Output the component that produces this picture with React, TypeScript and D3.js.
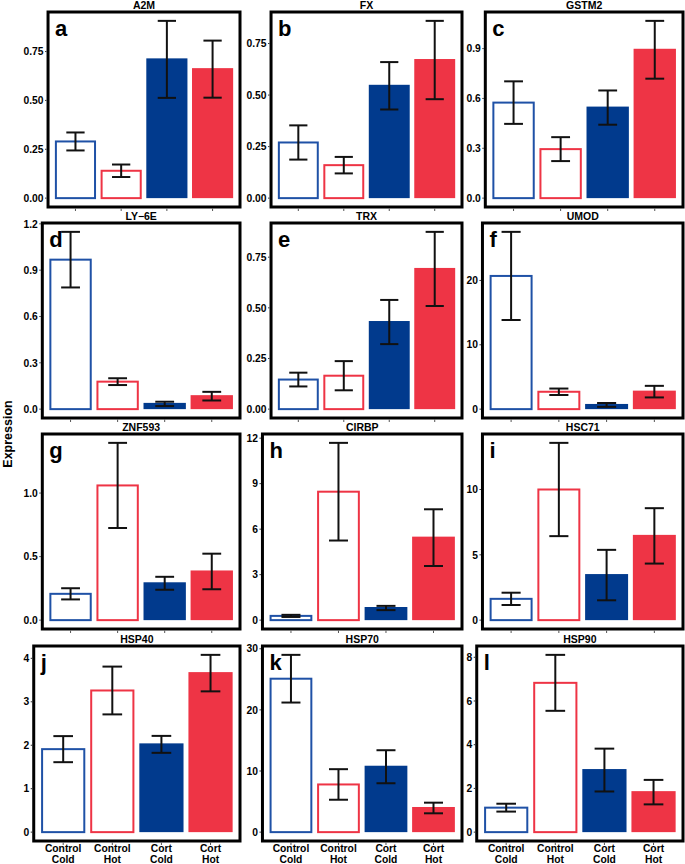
import * as d3 from 'd3'

const groups = ['Control Cold', 'Control Hot', 'Cort Cold', 'Cort Hot']
const hollow = [true, true, false, false]
const groupColors = ['#1f51a6', '#ee3445', '#013a8d', '#ee3445']

const genes = ['A2M', 'FX', 'GSTM2', 'LY\u22126E', 'TRX', 'UMOD', 'ZNF593', 'CIRBP', 'HSC71', 'HSP40', 'HSP70', 'HSP90']
const letters = ['a', 'b', 'c', 'd', 'e', 'f', 'g', 'h', 'i', 'j', 'k', 'l']

// mean expression and standard error, one pair per gene
const a2mMean = [0.29, 0.14, 0.71, 0.66]
const a2mSe = [0.046, 0.032, 0.197, 0.146]
const fxMean = [0.27, 0.16, 0.545, 0.67]
const fxSe = [0.083, 0.04, 0.115, 0.19]
const gstm2Mean = [0.575, 0.295, 0.545, 0.893]
const gstm2Se = [0.128, 0.072, 0.103, 0.174]
const ly6eMean = [0.968, 0.178, 0.034, 0.084]
const ly6eSe = [0.18, 0.022, 0.014, 0.028]
const trxMean = [0.146, 0.165, 0.43, 0.692]
const trxSe = [0.034, 0.072, 0.109, 0.183]
const umodMean = [20.7, 2.7, 0.65, 2.72]
const umodSe = [6.85, 0.5, 0.3, 0.9]
const znf593Mean = [0.207, 1.06, 0.29, 0.383]
const znf593Se = [0.044, 0.335, 0.051, 0.14]
const cirbpMean = [0.28, 8.47, 0.8, 5.44]
const cirbpSe = [0.07, 3.22, 0.14, 1.87]
const hsc71Mean = [1.63, 10.0, 3.45, 6.45]
const hsc71Se = [0.47, 3.57, 1.93, 2.12]
const hsp40Mean = [1.91, 3.26, 2.02, 3.66]
const hsp40Se = [0.3, 0.55, 0.195, 0.42]
const hsp70Mean = [25.1, 7.8, 10.7, 3.95]
const hsp70Se = [3.9, 2.5, 2.7, 0.87]
const hsp90Mean = [1.12, 6.83, 2.84, 1.83]
const hsp90Se = [0.18, 1.28, 0.98, 0.56]

const means = [a2mMean, fxMean, gstm2Mean, ly6eMean, trxMean, umodMean, znf593Mean, cirbpMean, hsc71Mean, hsp40Mean, hsp70Mean, hsp90Mean]
const ses = [a2mSe, fxSe, gstm2Se, ly6eSe, trxSe, umodSe, znf593Se, cirbpSe, hsc71Se, hsp40Se, hsp70Se, hsp90Se]

// y tick labels as printed in each panel
const tickLabels = [
  ['0.00', '0.25', '0.50', '0.75'],
  ['0.00', '0.25', '0.50', '0.75'],
  ['0.0', '0.3', '0.6', '0.9'],
  ['0.0', '0.3', '0.6', '0.9', '1.2'],
  ['0.00', '0.25', '0.50', '0.75'],
  ['0', '10', '20'],
  ['0.0', '0.5', '1.0'],
  ['0', '3', '6', '9', '12'],
  ['0', '5', '10'],
  ['0', '1', '2', '3', '4'],
  ['0', '10', '20', '30'],
  ['0', '2', '4', '6', '8'],
]

const W = 685
const H = 864
const FONT = '"Liberation Sans", Arial, Helvetica, sans-serif'
const rowTops = [12, 223, 434, 646]
const panelH = 195
const labelLefts = [24, 247, 467]
const rights = [240, 462, 683]
const tickSize = 10.3

let ctx: CanvasRenderingContext2D | null = null
function textWidth(s: string) {
  if (!ctx) ctx = document.createElement('canvas').getContext('2d')
  if (!ctx) return s.length * 6
  ctx.font = `bold ${tickSize}px ${FONT}`
  return ctx.measureText(s).width
}

function Panel({ idx }: { idx: number }) {
  const row = Math.floor(idx / 3)
  const col = idx % 3
  const labels = tickLabels[idx]
  const maxW = d3.max(labels, (s) => textWidth(s)) ?? 0
  const left = labelLefts[col] + maxW + 4
  const right = rights[col]
  const top = rowTops[row]
  const bottom = top + panelH
  const m = means[idx]
  const se = ses[idx]
  const hi = d3.max(m, (v, i) => v + se[i]) ?? 1

  const x = d3.scaleBand<string>().domain(groups).range([left, right]).paddingInner(0.1).paddingOuter(0.15)
  const y = d3.scaleLinear().domain([-0.05 * hi, 1.05 * hi]).range([bottom, top])
  const step = x.step()
  const bw = x.bandwidth()

  return (
    <g>
      <text x={(left + right) / 2} y={top - 3.5} textAnchor="middle" fontFamily={FONT} fontWeight="bold" fontSize={10.5}>
        {genes[idx]}
      </text>
      {groups.map((g, i) => {
        const x0 = x(g) ?? 0
        const y0 = y(0)
        const y1 = y(m[i])
        return hollow[i] ? (
          <rect key={g} x={x0 + 1} y={y1} width={bw - 2} height={y0 - y1} fill="#fff" stroke={groupColors[i]} strokeWidth={2} />
        ) : (
          <rect key={g} x={x0} y={y1 - 1} width={bw} height={y0 - y1 + 1} fill={groupColors[i]} />
        )
      })}
      {groups.map((g, i) => {
        const cx = (x(g) ?? 0) + bw / 2
        const cap = step * 0.2
        const ya = y(m[i] + se[i])
        const yb = y(m[i] - se[i])
        return (
          <g key={g} stroke="#111" strokeWidth={2} fill="none">
            <line x1={cx} x2={cx} y1={ya} y2={yb} />
            <line x1={cx - cap} x2={cx + cap} y1={ya} y2={ya} />
            <line x1={cx - cap} x2={cx + cap} y1={yb} y2={yb} />
          </g>
        )
      })}
      <rect x={left} y={top} width={right - left} height={panelH} fill="none" stroke="#000" strokeWidth={3} />
      <text x={left + 7} y={top + 24} fontFamily={FONT} fontWeight="bold" fontSize={22}>
        {letters[idx]}
      </text>
      {labels.map((s) => (
        <g key={s}>
          <line x1={left - 3} x2={left - 1.5} y1={y(+s)} y2={y(+s)} stroke="#333" strokeWidth={1} />
          <text x={left - 4.5} y={y(+s)} dy="0.36em" textAnchor="end" fontFamily={FONT} fontWeight="bold" fontSize={tickSize}>
            {s}
          </text>
        </g>
      ))}
      {groups.map((g) => {
        const cx = (x(g) ?? 0) + bw / 2
        return <line key={g} x1={cx} x2={cx} y1={bottom + 1.5} y2={bottom + 4} stroke="#555" strokeWidth={1} />
      })}
      {row === 3 &&
        groups.map((g) => {
          const cx = (x(g) ?? 0) + bw / 2
          const [a, b] = g.split(' ')
          return (
            <text key={g} textAnchor="middle" fontFamily={FONT} fontWeight="bold" fontSize={tickSize}>
              <tspan x={cx} y={852}>{a}</tspan>
              <tspan x={cx} y={862.5}>{b}</tspan>
            </text>
          )
        })}
    </g>
  )
}

export default function App() {
  return (
    <svg width={W} height={H} style={{ position: 'absolute', left: 0, top: 0, background: '#fff' }}>
      <rect width={W} height={H} fill="#fff" />
      <text transform="translate(11.5,434) rotate(-90)" textAnchor="middle" fontFamily={FONT} fontWeight="bold" fontSize={12.5}>
        Expression
      </text>
      {genes.map((_, i) => (
        <Panel key={i} idx={i} />
      ))}
    </svg>
  )
}
